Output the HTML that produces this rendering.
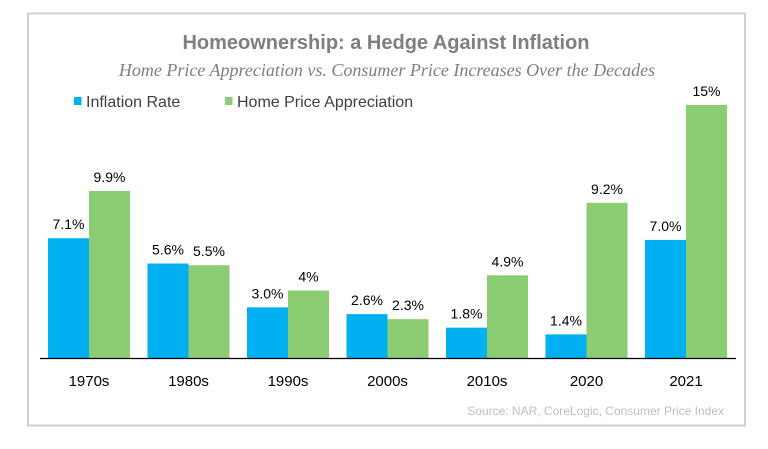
<!DOCTYPE html>
<html><head><meta charset="utf-8"><style>
body{margin:0;background:#fff;width:768px;height:449px;overflow:hidden}
svg{display:block}
</style></head><body>
<svg width="768" height="449">
<rect x="28" y="13.5" width="717" height="412" fill="#fff" stroke="#d0d0d0" stroke-width="2"/>
<text x="386" y="49" text-anchor="middle" font-family="Liberation Sans, sans-serif" font-weight="bold" font-size="20" fill="#7f7f7f">Homeownership: a Hedge Against Inflation</text>
<text x="387" y="76" text-anchor="middle" font-family="Liberation Serif, serif" font-style="italic" font-size="18" fill="#7f7f7f">Home Price Appreciation vs. Consumer Price Increases Over the Decades</text>
<g>
<rect x="74" y="97" width="7.5" height="8" fill="#00b0f0"/>
<text x="86" y="107" font-family="Liberation Sans, sans-serif" font-size="16" fill="#404040">Inflation Rate</text>
<rect x="225" y="97" width="7.5" height="8" fill="#8ccd73"/>
<text x="237" y="107" font-family="Liberation Sans, sans-serif" font-size="16" fill="#404040">Home Price Appreciation</text>
</g>
<g id="bars"></g>
<line x1="40" y1="358.5" x2="736" y2="358.5" stroke="#000" stroke-width="1.2"/>
<text x="724" y="415" text-anchor="end" font-family="Liberation Sans, sans-serif" font-size="12" fill="#bfbfbf">Source: NAR, CoreLogic, Consumer Price Index</text>
</svg>
<script>
const categories=["1970s","1980s","1990s","2000s","2010s","2020","2021"];
const inflation=[7.1,5.6,3.0,2.6,1.8,1.4,7.0];
const homePrice=[9.9,5.5,4,2.3,4.9,9.2,15];
const inflationLabels=["7.1%","5.6%","3.0%","2.6%","1.8%","1.4%","7.0%"];
const homeLabels=["9.9%","5.5%","4%","2.3%","4.9%","9.2%","15%"];
const NS="http://www.w3.org/2000/svg";
const g=document.getElementById('bars');
const base=358,ppu=16.87,x0=89,step=99.5,bw=41;
const y=v=>base-v*ppu;
const xc=i=>x0+i*step;
function mk(tag,attrs){const e=document.createElementNS(NS,tag);for(const k in attrs)e.setAttribute(k,attrs[k]);g.appendChild(e);return e;}
function label(x,yy,t){const e=mk('text',{x:x,y:yy,'text-anchor':'middle','font-family':'Liberation Sans, sans-serif','font-size':'14',fill:'#000'});e.textContent=t;return e;}
categories.forEach((c,i)=>{
  const b=mk('rect',{x:xc(i)-bw,y:y(inflation[i]),width:bw,height:base-y(inflation[i]),fill:'#00b0f0'});
  
  
  const h=mk('rect',{x:xc(i),y:y(homePrice[i]),width:bw,height:base-y(homePrice[i]),fill:'#8ccd73'});
  
  
  const l1=label(xc(i)-bw/2,y(inflation[i])-9,inflationLabels[i]);
  
  
  const l2=label(xc(i)+bw/2,y(homePrice[i])-9,homeLabels[i]);
  
  
  const t=mk('text',{x:xc(i),y:386,'text-anchor':'middle','font-family':'Liberation Sans, sans-serif','font-size':'15',fill:'#000'});
  t.textContent=c;
  
  
});
</script>
</body></html>
